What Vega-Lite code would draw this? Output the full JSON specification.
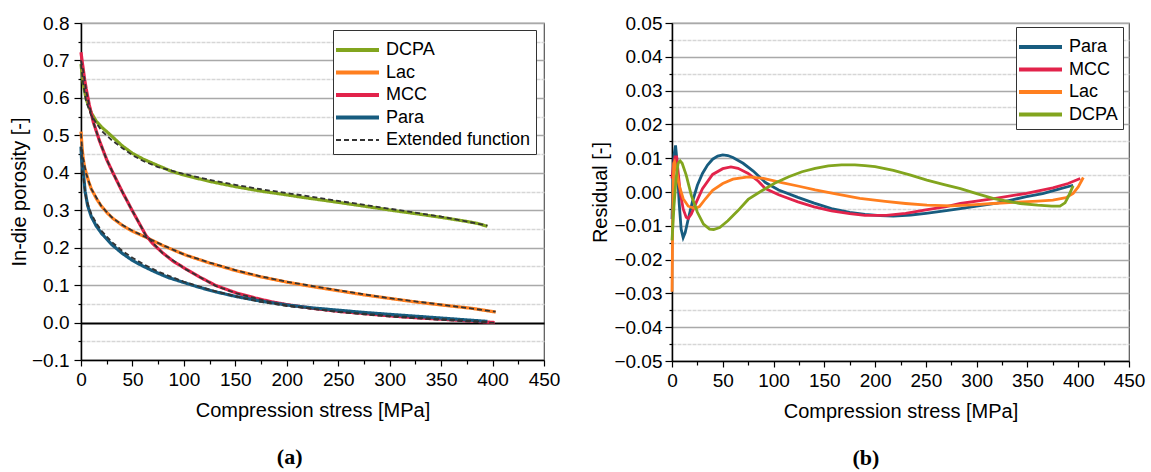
{
  "$schema": "https://vega.github.io/schema/vega-lite/v6.json",
  "background": "white",
  "padding": {"left": 8, "top": 13, "right": 5, "bottom": 5},
  "spacing": 29,
  "align": "none",
  "bounds": "full",
  "config": {
    "axis": {"labelFont": "Liberation Sans", "labelFontSize": 19, "labelColor": "black", "titleFont": "Liberation Sans", "titleFontSize": 20, "titleFontWeight": "normal", "titleColor": "black", "domainColor": "black", "domainWidth": 1.5, "tickColor": "black", "tickWidth": 1.2},
    "view": {"stroke": "#555", "strokeWidth": 1.2},
    "legend": {"labelFont": "Liberation Sans", "labelFontSize": 18, "labelColor": "black", "strokeColor": "#333", "fillColor": "white", "symbolType": "M-2.2,0H6.4", "symbolSize": 100, "symbolStrokeWidth": 4, "rowPadding": 4.5, "labelOffset": 30, "labelLimit": 300, "titleFontSize": 5, "titleColor": "white", "titlePadding": 1},
    "title": {"font": "Liberation Serif", "fontSize": 22, "fontWeight": "bold", "color": "black", "orient": "bottom", "frame": "bounds", "anchor": "middle", "offset": 27}
  },
  "datasets": {
    "por": [
      {"m":"DCPA","s":"DCPA","x":0,"y":0.69},{"m":"DCPA","s":"DCPA","x":1,"y":0.665},{"m":"DCPA","s":"DCPA","x":3,"y":0.625},{"m":"DCPA","s":"DCPA","x":5,"y":0.597},{"m":"DCPA","s":"DCPA","x":10,"y":0.56},{"m":"DCPA","s":"DCPA","x":15,"y":0.537},{"m":"DCPA","s":"DCPA","x":20,"y":0.522},{"m":"DCPA","s":"DCPA","x":29,"y":0.5},{"m":"DCPA","s":"DCPA","x":40,"y":0.472},{"m":"DCPA","s":"DCPA","x":50,"y":0.452},{"m":"DCPA","s":"DCPA","x":60,"y":0.437},{"m":"DCPA","s":"DCPA","x":75,"y":0.419},{"m":"DCPA","s":"DCPA","x":88,"y":0.404},{"m":"DCPA","s":"DCPA","x":100,"y":0.394},{"m":"DCPA","s":"DCPA","x":125,"y":0.377},{"m":"DCPA","s":"DCPA","x":150,"y":0.363},{"m":"DCPA","s":"DCPA","x":175,"y":0.351},{"m":"DCPA","s":"DCPA","x":200,"y":0.341},{"m":"DCPA","s":"DCPA","x":214,"y":0.335},{"m":"DCPA","s":"DCPA","x":250,"y":0.321},{"m":"DCPA","s":"DCPA","x":275,"y":0.311},{"m":"DCPA","s":"DCPA","x":304,"y":0.299},{"m":"DCPA","s":"DCPA","x":330,"y":0.289},{"m":"DCPA","s":"DCPA","x":350,"y":0.281},{"m":"DCPA","s":"DCPA","x":375,"y":0.27},{"m":"DCPA","s":"DCPA","x":385,"y":0.265},{"m":"DCPA","s":"DCPA","x":395,"y":0.257},
      {"m":"Lac","s":"Lac","x":0,"y":0.51},{"m":"Lac","s":"Lac","x":0.5,"y":0.49},{"m":"Lac","s":"Lac","x":1,"y":0.47},{"m":"Lac","s":"Lac","x":2,"y":0.44},{"m":"Lac","s":"Lac","x":3.5,"y":0.415},{"m":"Lac","s":"Lac","x":5,"y":0.4},{"m":"Lac","s":"Lac","x":7.5,"y":0.376},{"m":"Lac","s":"Lac","x":10,"y":0.357},{"m":"Lac","s":"Lac","x":15,"y":0.331},{"m":"Lac","s":"Lac","x":19,"y":0.314},{"m":"Lac","s":"Lac","x":25,"y":0.294},{"m":"Lac","s":"Lac","x":31,"y":0.278},{"m":"Lac","s":"Lac","x":40,"y":0.26},{"m":"Lac","s":"Lac","x":50,"y":0.244},{"m":"Lac","s":"Lac","x":63,"y":0.228},{"m":"Lac","s":"Lac","x":80,"y":0.205},{"m":"Lac","s":"Lac","x":102,"y":0.18},{"m":"Lac","s":"Lac","x":125,"y":0.159},{"m":"Lac","s":"Lac","x":150,"y":0.139},{"m":"Lac","s":"Lac","x":175,"y":0.122},{"m":"Lac","s":"Lac","x":200,"y":0.108},{"m":"Lac","s":"Lac","x":225,"y":0.096},{"m":"Lac","s":"Lac","x":250,"y":0.085},{"m":"Lac","s":"Lac","x":275,"y":0.074},{"m":"Lac","s":"Lac","x":304,"y":0.063},{"m":"Lac","s":"Lac","x":325,"y":0.055},{"m":"Lac","s":"Lac","x":350,"y":0.047},{"m":"Lac","s":"Lac","x":380,"y":0.038},{"m":"Lac","s":"Lac","x":403,"y":0.028},
      {"m":"MCC","s":"MCC","x":0,"y":0.722},{"m":"MCC","s":"MCC","x":1,"y":0.7},{"m":"MCC","s":"MCC","x":2,"y":0.68},{"m":"MCC","s":"MCC","x":3.5,"y":0.65},{"m":"MCC","s":"MCC","x":5,"y":0.625},{"m":"MCC","s":"MCC","x":8,"y":0.582},{"m":"MCC","s":"MCC","x":12,"y":0.535},{"m":"MCC","s":"MCC","x":18,"y":0.485},{"m":"MCC","s":"MCC","x":25,"y":0.435},{"m":"MCC","s":"MCC","x":31,"y":0.4},{"m":"MCC","s":"MCC","x":40,"y":0.35},{"m":"MCC","s":"MCC","x":50,"y":0.298},{"m":"MCC","s":"MCC","x":63,"y":0.233},{"m":"MCC","s":"MCC","x":70,"y":0.21},{"m":"MCC","s":"MCC","x":79,"y":0.187},{"m":"MCC","s":"MCC","x":90,"y":0.163},{"m":"MCC","s":"MCC","x":102,"y":0.143},{"m":"MCC","s":"MCC","x":115,"y":0.122},{"m":"MCC","s":"MCC","x":131,"y":0.099},{"m":"MCC","s":"MCC","x":150,"y":0.08},{"m":"MCC","s":"MCC","x":170,"y":0.065},{"m":"MCC","s":"MCC","x":186,"y":0.055},{"m":"MCC","s":"MCC","x":200,"y":0.048},{"m":"MCC","s":"MCC","x":225,"y":0.038},{"m":"MCC","s":"MCC","x":250,"y":0.03},{"m":"MCC","s":"MCC","x":275,"y":0.024},{"m":"MCC","s":"MCC","x":304,"y":0.017},{"m":"MCC","s":"MCC","x":330,"y":0.012},{"m":"MCC","s":"MCC","x":350,"y":0.009},{"m":"MCC","s":"MCC","x":380,"y":0.004},{"m":"MCC","s":"MCC","x":402,"y":0.0},
      {"m":"Para","s":"Para","x":0,"y":0.47},{"m":"Para","s":"Para","x":0.5,"y":0.44},{"m":"Para","s":"Para","x":1,"y":0.425},{"m":"Para","s":"Para","x":2.3,"y":0.4},{"m":"Para","s":"Para","x":4,"y":0.35},{"m":"Para","s":"Para","x":6.5,"y":0.312},{"m":"Para","s":"Para","x":10,"y":0.283},{"m":"Para","s":"Para","x":14.6,"y":0.259},{"m":"Para","s":"Para","x":20,"y":0.238},{"m":"Para","s":"Para","x":30,"y":0.208},{"m":"Para","s":"Para","x":40,"y":0.185},{"m":"Para","s":"Para","x":50,"y":0.166},{"m":"Para","s":"Para","x":60,"y":0.151},{"m":"Para","s":"Para","x":73,"y":0.134},{"m":"Para","s":"Para","x":85,"y":0.12},{"m":"Para","s":"Para","x":100,"y":0.107},{"m":"Para","s":"Para","x":115,"y":0.094},{"m":"Para","s":"Para","x":131,"y":0.082},{"m":"Para","s":"Para","x":150,"y":0.07},{"m":"Para","s":"Para","x":175,"y":0.057},{"m":"Para","s":"Para","x":200,"y":0.047},{"m":"Para","s":"Para","x":225,"y":0.039},{"m":"Para","s":"Para","x":250,"y":0.033},{"m":"Para","s":"Para","x":275,"y":0.027},{"m":"Para","s":"Para","x":304,"y":0.021},{"m":"Para","s":"Para","x":330,"y":0.016},{"m":"Para","s":"Para","x":350,"y":0.012},{"m":"Para","s":"Para","x":375,"y":0.007},{"m":"Para","s":"Para","x":395,"y":0.003},
      {"m":"DCPA","s":"Extended function","x":0,"y":0.69},{"m":"DCPA","s":"Extended function","x":2,"y":0.64},{"m":"DCPA","s":"Extended function","x":5,"y":0.59},{"m":"DCPA","s":"Extended function","x":10,"y":0.553},{"m":"DCPA","s":"Extended function","x":20,"y":0.512},{"m":"DCPA","s":"Extended function","x":30,"y":0.487},{"m":"DCPA","s":"Extended function","x":40,"y":0.466},{"m":"DCPA","s":"Extended function","x":50,"y":0.447},{"m":"DCPA","s":"Extended function","x":60,"y":0.432},{"m":"DCPA","s":"Extended function","x":75,"y":0.415},{"m":"DCPA","s":"Extended function","x":100,"y":0.397},{"m":"DCPA","s":"Extended function","x":125,"y":0.381},{"m":"DCPA","s":"Extended function","x":150,"y":0.368},{"m":"DCPA","s":"Extended function","x":175,"y":0.356},{"m":"DCPA","s":"Extended function","x":200,"y":0.346},{"m":"DCPA","s":"Extended function","x":250,"y":0.325},{"m":"DCPA","s":"Extended function","x":300,"y":0.304},{"m":"DCPA","s":"Extended function","x":350,"y":0.283},{"m":"DCPA","s":"Extended function","x":395,"y":0.259},
      {"m":"Lac","s":"Extended function","x":0,"y":0.505},{"m":"Lac","s":"Extended function","x":1,"y":0.465},{"m":"Lac","s":"Extended function","x":2,"y":0.44},{"m":"Lac","s":"Extended function","x":5,"y":0.398},{"m":"Lac","s":"Extended function","x":10,"y":0.357},{"m":"Lac","s":"Extended function","x":20,"y":0.31},{"m":"Lac","s":"Extended function","x":30,"y":0.281},{"m":"Lac","s":"Extended function","x":40,"y":0.261},{"m":"Lac","s":"Extended function","x":50,"y":0.245},{"m":"Lac","s":"Extended function","x":63,"y":0.228},{"m":"Lac","s":"Extended function","x":80,"y":0.206},{"m":"Lac","s":"Extended function","x":100,"y":0.182},{"m":"Lac","s":"Extended function","x":125,"y":0.16},{"m":"Lac","s":"Extended function","x":150,"y":0.14},{"m":"Lac","s":"Extended function","x":175,"y":0.123},{"m":"Lac","s":"Extended function","x":200,"y":0.109},{"m":"Lac","s":"Extended function","x":250,"y":0.086},{"m":"Lac","s":"Extended function","x":300,"y":0.065},{"m":"Lac","s":"Extended function","x":350,"y":0.048},{"m":"Lac","s":"Extended function","x":403,"y":0.029},
      {"m":"MCC","s":"Extended function","x":0,"y":0.7},{"m":"MCC","s":"Extended function","x":2,"y":0.675},{"m":"MCC","s":"Extended function","x":5,"y":0.62},{"m":"MCC","s":"Extended function","x":8,"y":0.58},{"m":"MCC","s":"Extended function","x":12,"y":0.535},{"m":"MCC","s":"Extended function","x":18,"y":0.485},{"m":"MCC","s":"Extended function","x":25,"y":0.435},{"m":"MCC","s":"Extended function","x":31,"y":0.4},{"m":"MCC","s":"Extended function","x":40,"y":0.35},{"m":"MCC","s":"Extended function","x":50,"y":0.298},{"m":"MCC","s":"Extended function","x":63,"y":0.233},{"m":"MCC","s":"Extended function","x":79,"y":0.186},{"m":"MCC","s":"Extended function","x":102,"y":0.142},{"m":"MCC","s":"Extended function","x":131,"y":0.098},{"m":"MCC","s":"Extended function","x":150,"y":0.079},{"m":"MCC","s":"Extended function","x":186,"y":0.053},{"m":"MCC","s":"Extended function","x":200,"y":0.046},{"m":"MCC","s":"Extended function","x":250,"y":0.028},{"m":"MCC","s":"Extended function","x":300,"y":0.016},{"m":"MCC","s":"Extended function","x":350,"y":0.007},{"m":"MCC","s":"Extended function","x":402,"y":-0.001},
      {"m":"Para","s":"Extended function","x":0,"y":0.47},{"m":"Para","s":"Extended function","x":2,"y":0.39},{"m":"Para","s":"Extended function","x":5,"y":0.33},{"m":"Para","s":"Extended function","x":10,"y":0.29},{"m":"Para","s":"Extended function","x":15,"y":0.265},{"m":"Para","s":"Extended function","x":20,"y":0.245},{"m":"Para","s":"Extended function","x":30,"y":0.215},{"m":"Para","s":"Extended function","x":40,"y":0.192},{"m":"Para","s":"Extended function","x":50,"y":0.173},{"m":"Para","s":"Extended function","x":60,"y":0.157},{"m":"Para","s":"Extended function","x":75,"y":0.136},{"m":"Para","s":"Extended function","x":100,"y":0.109},{"m":"Para","s":"Extended function","x":125,"y":0.088},{"m":"Para","s":"Extended function","x":150,"y":0.07},{"m":"Para","s":"Extended function","x":175,"y":0.055},{"m":"Para","s":"Extended function","x":200,"y":0.044},{"m":"Para","s":"Extended function","x":250,"y":0.029},{"m":"Para","s":"Extended function","x":300,"y":0.018},{"m":"Para","s":"Extended function","x":350,"y":0.009},{"m":"Para","s":"Extended function","x":395,"y":0.002}
    ],
    "res": [
      {"m":"Para","x":0,"y":-0.008},{"m":"Para","x":1,"y":0.004},{"m":"Para","x":2,"y":0.011},{"m":"Para","x":3.5,"y":0.0138},{"m":"Para","x":5,"y":0.009},{"m":"Para","x":7,"y":-0.003},{"m":"Para","x":9,"y":-0.011},{"m":"Para","x":11,"y":-0.0135},{"m":"Para","x":13,"y":-0.012},{"m":"Para","x":16,"y":-0.008},{"m":"Para","x":20,"y":-0.003},{"m":"Para","x":25,"y":0.002},{"m":"Para","x":30,"y":0.0055},{"m":"Para","x":35,"y":0.008},{"m":"Para","x":40,"y":0.0097},{"m":"Para","x":45,"y":0.0106},{"m":"Para","x":50,"y":0.011},{"m":"Para","x":55,"y":0.0108},{"m":"Para","x":60,"y":0.0102},{"m":"Para","x":70,"y":0.0085},{"m":"Para","x":80,"y":0.0062},{"m":"Para","x":92,"y":0.0028},{"m":"Para","x":105,"y":0.0006},{"m":"Para","x":124,"y":-0.0016},{"m":"Para","x":140,"y":-0.0033},{"m":"Para","x":157,"y":-0.0049},{"m":"Para","x":175,"y":-0.006},{"m":"Para","x":190,"y":-0.0066},{"m":"Para","x":205,"y":-0.007},{"m":"Para","x":218,"y":-0.0071},{"m":"Para","x":235,"y":-0.0068},{"m":"Para","x":250,"y":-0.0063},{"m":"Para","x":270,"y":-0.0055},{"m":"Para","x":284,"y":-0.0049},{"m":"Para","x":300,"y":-0.0042},{"m":"Para","x":320,"y":-0.0033},{"m":"Para","x":335,"y":-0.0023},{"m":"Para","x":349,"y":-0.0014},{"m":"Para","x":365,"y":-0.0005},{"m":"Para","x":380,"y":0.0008},{"m":"Para","x":395,"y":0.002},
      {"m":"MCC","x":0,"y":0.004},{"m":"MCC","x":1.5,"y":0.008},{"m":"MCC","x":3,"y":0.0104},{"m":"MCC","x":4.6,"y":0.0104},{"m":"MCC","x":6,"y":0.006},{"m":"MCC","x":8,"y":0.0},{"m":"MCC","x":11,"y":-0.005},{"m":"MCC","x":14,"y":-0.0075},{"m":"MCC","x":16,"y":-0.0078},{"m":"MCC","x":19,"y":-0.0065},{"m":"MCC","x":24,"y":-0.003},{"m":"MCC","x":30,"y":0.001},{"m":"MCC","x":40,"y":0.0052},{"m":"MCC","x":50,"y":0.0069},{"m":"MCC","x":58,"y":0.0074},{"m":"MCC","x":65,"y":0.007},{"m":"MCC","x":75,"y":0.0055},{"m":"MCC","x":85,"y":0.0032},{"m":"MCC","x":92,"y":0.001},{"m":"MCC","x":105,"y":-0.0008},{"m":"MCC","x":124,"y":-0.0029},{"m":"MCC","x":140,"y":-0.0044},{"m":"MCC","x":157,"y":-0.0056},{"m":"MCC","x":175,"y":-0.0064},{"m":"MCC","x":190,"y":-0.0069},{"m":"MCC","x":211,"y":-0.0069},{"m":"MCC","x":230,"y":-0.0063},{"m":"MCC","x":250,"y":-0.0053},{"m":"MCC","x":270,"y":-0.0043},{"m":"MCC","x":284,"y":-0.0034},{"m":"MCC","x":300,"y":-0.0027},{"m":"MCC","x":320,"y":-0.0018},{"m":"MCC","x":349,"y":-0.0004},{"m":"MCC","x":375,"y":0.0012},{"m":"MCC","x":390,"y":0.0025},{"m":"MCC","x":402,"y":0.004},
      {"m":"Lac","x":0,"y":-0.0295},{"m":"Lac","x":0.5,"y":-0.015},{"m":"Lac","x":1,"y":0.0},{"m":"Lac","x":1.8,"y":0.0085},{"m":"Lac","x":2.5,"y":0.0089},{"m":"Lac","x":4,"y":0.007},{"m":"Lac","x":7,"y":0.002},{"m":"Lac","x":11,"y":-0.002},{"m":"Lac","x":16,"y":-0.0042},{"m":"Lac","x":22.6,"y":-0.0049},{"m":"Lac","x":27,"y":-0.0043},{"m":"Lac","x":33,"y":-0.002},{"m":"Lac","x":40,"y":0.0005},{"m":"Lac","x":50,"y":0.0025},{"m":"Lac","x":60,"y":0.0038},{"m":"Lac","x":75,"y":0.0045},{"m":"Lac","x":90,"y":0.004},{"m":"Lac","x":108,"y":0.0028},{"m":"Lac","x":125,"y":0.0017},{"m":"Lac","x":141,"y":0.0006},{"m":"Lac","x":160,"y":-0.0005},{"m":"Lac","x":185,"y":-0.0019},{"m":"Lac","x":210,"y":-0.0028},{"m":"Lac","x":230,"y":-0.0034},{"m":"Lac","x":251,"y":-0.0039},{"m":"Lac","x":275,"y":-0.0041},{"m":"Lac","x":295,"y":-0.0038},{"m":"Lac","x":316,"y":-0.0034},{"m":"Lac","x":340,"y":-0.003},{"m":"Lac","x":360,"y":-0.0027},{"m":"Lac","x":375,"y":-0.0024},{"m":"Lac","x":388,"y":-0.0017},{"m":"Lac","x":395,"y":-0.0004},{"m":"Lac","x":400,"y":0.0015},{"m":"Lac","x":405,"y":0.0043},
      {"m":"DCPA","x":0,"y":-0.0143},{"m":"DCPA","x":2,"y":-0.004},{"m":"DCPA","x":4,"y":0.004},{"m":"DCPA","x":6,"y":0.0085},{"m":"DCPA","x":8,"y":0.0092},{"m":"DCPA","x":10,"y":0.0085},{"m":"DCPA","x":14,"y":0.005},{"m":"DCPA","x":19,"y":-0.001},{"m":"DCPA","x":25,"y":-0.006},{"m":"DCPA","x":31,"y":-0.0095},{"m":"DCPA","x":37,"y":-0.011},{"m":"DCPA","x":41,"y":-0.0111},{"m":"DCPA","x":47,"y":-0.0105},{"m":"DCPA","x":55,"y":-0.0085},{"m":"DCPA","x":65,"y":-0.0055},{"m":"DCPA","x":75,"y":-0.0022},{"m":"DCPA","x":88,"y":0.0003},{"m":"DCPA","x":101,"y":0.0026},{"m":"DCPA","x":115,"y":0.0045},{"m":"DCPA","x":128,"y":0.006},{"m":"DCPA","x":141,"y":0.007},{"m":"DCPA","x":154,"y":0.0077},{"m":"DCPA","x":167,"y":0.008},{"m":"DCPA","x":180,"y":0.008},{"m":"DCPA","x":190,"y":0.0078},{"m":"DCPA","x":200,"y":0.0075},{"m":"DCPA","x":218,"y":0.0064},{"m":"DCPA","x":235,"y":0.005},{"m":"DCPA","x":251,"y":0.0035},{"m":"DCPA","x":268,"y":0.0022},{"m":"DCPA","x":284,"y":0.001},{"m":"DCPA","x":300,"y":-0.0005},{"m":"DCPA","x":316,"y":-0.0019},{"m":"DCPA","x":330,"y":-0.0027},{"m":"DCPA","x":343,"y":-0.0034},{"m":"DCPA","x":360,"y":-0.0039},{"m":"DCPA","x":374,"y":-0.0042},{"m":"DCPA","x":382,"y":-0.0042},{"m":"DCPA","x":387,"y":-0.0032},{"m":"DCPA","x":390,"y":-0.0015},{"m":"DCPA","x":395,"y":0.0018}
    ]
  },
  "hconcat": [
    {
      "width": 463,
      "height": 337,
      "title": {"text": "(a)", "dx": 5},
      "data": {"name": "por"},
      "encoding": {
        "x": {"field": "x", "type": "quantitative", "title": "Compression stress [MPa]",
          "scale": {"domain": [0, 450], "nice": false, "zero": false},
          "axis": {"values": [0,25,50,75,100,125,150,175,200,225,250,275,300,325,350,375,400,425,450],
            "labelExpr": "datum.value % 50 === 0 ? datum.label : ''", "grid": false,
            "tickSize": {"condition": {"test": "datum.value % 50 === 0", "value": 6}, "value": 4},
            "labelPadding": 4, "titlePadding": 11, "labelFlush": false}},
        "y": {"field": "y", "type": "quantitative", "title": "In-die porosity [-]",
          "scale": {"domain": [-0.1, 0.8], "nice": false, "zero": false},
          "axis": {"values": [-0.1,-0.05,0,0.05,0.1,0.15,0.2,0.25,0.3,0.35,0.4,0.45,0.5,0.55,0.6,0.65,0.7,0.75,0.8],
            "labelExpr": "abs(round(datum.value*10)-datum.value*10) < 0.001 ? format(datum.value, '.1f') : ''",
            "grid": true,
            "gridColor": {"condition": [{"test": "abs(datum.value) < 1e-9", "value": "black"}, {"test": "abs(round(datum.value*10)-datum.value*10) < 0.001", "value": "#a9a9a9"}], "value": "#d6d6d6"},
            "gridDash": {"condition": {"test": "abs(round(datum.value*10)-datum.value*10) < 0.001", "value": [1, 0]}, "value": [4, 1]},
            "gridWidth": {"condition": {"test": "abs(datum.value) < 1e-9", "value": 2}, "value": 1.5},
            "tickSize": {"condition": {"test": "abs(round(datum.value*10)-datum.value*10) < 0.001", "value": 7}, "value": 3},
            "labelPadding": 5, "titlePadding": 2, "labelFlush": false}},
        "color": {"field": "s", "type": "nominal",
          "scale": {"domain": ["DCPA", "Lac", "MCC", "Para", "Extended function"], "range": ["#82a51e", "#ff7f1f", "#e2234b", "#175c7f", "#333333"]},
          "legend": {"title": ".", "orient": "none", "legendX": 252, "legendY": 7, "padding": 5,
            "encode": {"symbols": {"update": {"strokeWidth": {"signal": "datum.value === 'Extended function' ? 1.8 : 4"}}}}}},
        "strokeDash": {"field": "s", "type": "nominal",
          "scale": {"domain": ["DCPA", "Lac", "MCC", "Para", "Extended function"], "range": [[1, 0], [1, 0], [1, 0], [1, 0], [5, 3]]},
          "legend": {"title": ".", "orient": "none", "legendX": 252, "legendY": 7, "padding": 5}},
        "detail": {"field": "m"}
      },
      "layer": [
        {"transform": [{"filter": "datum.s !== 'Extended function'"}], "mark": {"type": "line", "strokeWidth": 3.2}},
        {"transform": [{"filter": "datum.s === 'Extended function'"}], "mark": {"type": "line", "strokeWidth": 1.8}}
      ]
    },
    {
      "width": 457,
      "height": 338,
      "title": {"text": "(b)", "dx": -2},
      "data": {"name": "res"},
      "mark": {"type": "line", "strokeWidth": 2.8},
      "encoding": {
        "x": {"field": "x", "type": "quantitative", "title": "Compression stress [MPa]",
          "scale": {"domain": [0, 450], "nice": false, "zero": false},
          "axis": {"values": [0,25,50,75,100,125,150,175,200,225,250,275,300,325,350,375,400,425,450],
            "labelExpr": "datum.value % 50 === 0 ? datum.label : ''", "grid": false,
            "tickSize": {"condition": {"test": "datum.value % 50 === 0", "value": 6}, "value": 4},
            "labelPadding": 4, "titlePadding": 11, "labelFlush": false}},
        "y": {"field": "y", "type": "quantitative", "title": "Residual [-]",
          "scale": {"domain": [-0.05, 0.05], "nice": false, "zero": false},
          "axis": {"values": [-0.05,-0.045,-0.04,-0.035,-0.03,-0.025,-0.02,-0.015,-0.01,-0.005,0,0.005,0.01,0.015,0.02,0.025,0.03,0.035,0.04,0.045,0.05],
            "labelExpr": "abs(round(datum.value*100)-datum.value*100) < 0.001 ? format(datum.value, '.2f') : ''",
            "grid": true,
            "gridColor": {"condition": {"test": "abs(round(datum.value*100)-datum.value*100) < 0.001", "value": "#a9a9a9"}, "value": "#d6d6d6"},
            "gridDash": {"condition": {"test": "abs(round(datum.value*100)-datum.value*100) < 0.001", "value": [1, 0]}, "value": [4, 1]},
            "gridWidth": 1.5,
            "tickSize": {"condition": {"test": "abs(round(datum.value*100)-datum.value*100) < 0.001", "value": 7}, "value": 3},
            "labelPadding": 3, "titlePadding": 3, "labelFlush": false}},
        "color": {"field": "m", "type": "nominal",
          "scale": {"domain": ["Para", "MCC", "Lac", "DCPA"], "range": ["#175c7f", "#e2234b", "#ff7f1f", "#82a51e"]},
          "legend": {"title": ".", "orient": "none", "legendX": 344, "legendY": 4, "padding": 5}}
      }
    }
  ],
  "resolve": {"scale": {"color": "independent", "strokeDash": "independent"}, "legend": {"color": "independent", "strokeDash": "independent"}}
}
